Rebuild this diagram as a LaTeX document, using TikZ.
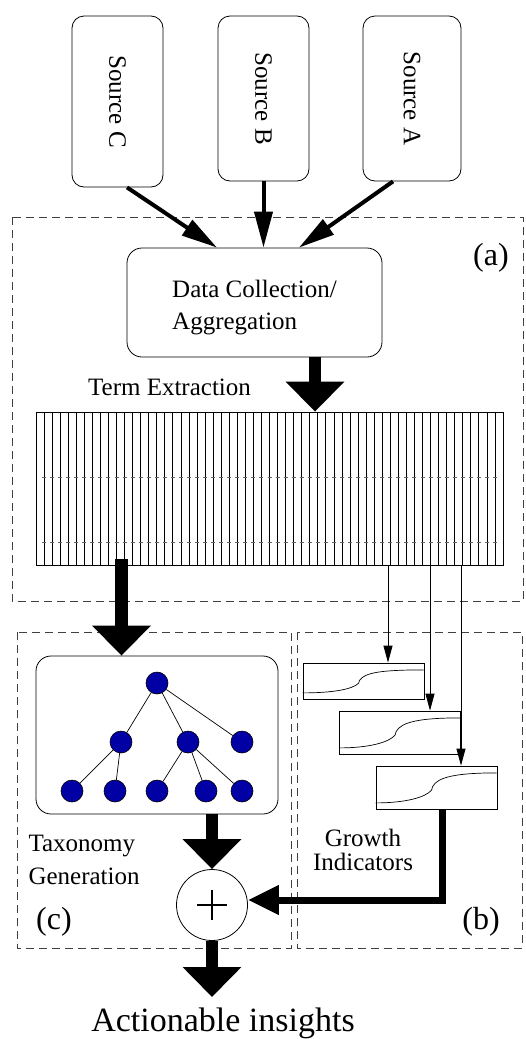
\documentclass[tikz,border=0pt]{standalone}
\usepackage{fontspec}
\setmainfont{Liberation Serif}
\usepackage{graphicx}
\usetikzlibrary{arrows.meta}
\definecolor{treeblue}{RGB}{0,0,165}
\tikzset{
	every node/.style={font=\fontsize{25}{32}\selectfont},
	roundbox/.style={draw, rounded corners=12pt, inner sep=0pt, line width=0.8pt},
	regionbox/.style={draw=black!75, dash pattern=on 8pt off 5pt, line width=0.8pt},
	lbl/.style={font=\fontsize{32}{38}\selectfont},
	leaf/.style={circle, draw, fill=treeblue, minimum size=22pt, inner sep=0pt, line width=0.6pt},
	treeedge/.style={line width=0.7pt},
	gbox/.style={draw, inner sep=0pt, minimum width=121pt, line width=0.8pt},
	curve/.style={line width=0.7pt},
	stripe/.style={line width=0.8pt},
	srcarrow/.style={line width=4pt, -{Triangle[length=36pt,width=18pt]}},
	blockarrow/.style={line width=12.5pt, -{Triangle[length=30pt,width=57pt]}},
	feedarrow/.style={line width=7pt, -{Triangle[length=31pt,width=28pt]}},
	thinarrow/.style={line width=0.8pt, -{Triangle[length=17pt,width=9pt]}}
}
\begin{document}
\begin{tikzpicture}[x=1pt,y=-1pt]
		\useasboundingbox (0,0) rectangle (525,1039);
		% dashed regions
		\draw[regionbox] (12,217) rectangle (523,601);
		\draw[regionbox] (17,632) rectangle (291,948);
		\draw[regionbox] (297,632) rectangle (522,948);
		\node[lbl] (laba) at (491,258) {(a)};
		\node[lbl] (labb) at (481,922) {(b)};
		\node[lbl] (labc) at (54,922) {(c)};
		% sources
		\node[roundbox, minimum width=91pt, minimum height=171pt] (srcC) at (117.5,101.5) {\rotatebox{-90}{Source C}};
		\node[roundbox, minimum width=91pt, minimum height=165pt] (srcB) at (263.5,98.5) {\rotatebox{-90}{Source B}};
		\node[roundbox, minimum width=98pt, minimum height=165pt] (srcA) at (412,98.5) {\rotatebox{-90}{Source A}};
		\node[roundbox, rounded corners=15pt, minimum width=255pt, minimum height=109pt] (dc) at (254.5,302.5) {};
		\node[align=left] (dctext) at (254.5,308) {Data Collection/\\Aggregation};
		\draw[srcarrow] ([xshift=9.5pt]srcC.south) -- ([xshift=-37.5pt]dc.north);
		\draw[srcarrow] (srcB.south) -- (srcB.south |- dc.north);
		\draw[srcarrow] ([xshift=-19pt]srcA.south) -- ([xshift=44.5pt]dc.north);
		% term bar
		\node[anchor=base] (termlbl) at (169.5,395) {Term Extraction};
		\node[draw, line width=0.8pt, minimum width=467pt, minimum height=153pt, inner sep=0pt] (terms) at (269.5,488.5) {};
		\foreach \i in {1,...,57} {
			\draw[stripe] (36+\i*8.052,412) -- (36+\i*8.052,565);
			\draw[stripe, black!60] (36+\i*8.052-2,477) -- (36+\i*8.052+2,477);
			\draw[stripe, black!60] (36+\i*8.052-2,542) -- (36+\i*8.052+2,542);
		}
		\coordinate (dcout) at ([xshift=60.5pt]dc.south);
		\draw[blockarrow] (dcout) -- (dcout |- terms.north);
		% taxonomy
		\node[roundbox, rounded corners=15pt, minimum width=242pt, minimum height=158pt] (taxbox) at (157,735) {};
		\node[leaf] (t0) at (157,683) {};
		\node[leaf] (t1) at (121,742) {};
		\node[leaf] (t2) at (188,742) {};
		\node[leaf] (t3) at (242,742) {};
		\node[leaf] (t4) at (72,791) {};
		\node[leaf] (t5) at (115,791) {};
		\node[leaf] (t6) at (157,791) {};
		\node[leaf] (t7) at (206,791) {};
		\node[leaf] (t8) at (242,791) {};
		\foreach \a/\b in {t0/t1, t0/t2, t0/t3, t1/t4, t1/t5, t2/t6, t2/t7, t2/t8}
			\draw[treeedge] (\a) -- (\b);
		\node[anchor=west, align=left, font=\fontsize{25}{33}\selectfont] (taxlbl) at (25,860) {Taxonomy\\Generation};
		\coordinate (taxin) at ([xshift=-35.5pt]taxbox.north);
		\coordinate (taxsrc) at ([yshift=6pt]terms.south);
		\draw[blockarrow] (taxsrc -| taxin) -- (taxin);
		% growth indicators
		\foreach \g/\cx/\cy/\h in {g1/363.5/681/36, g2/400/732.5/43, g3/436.5/787.5/43} {
			\node[gbox, minimum height=\h pt] (\g) at (\cx,\cy) {};
			\begin{scope}[shift={(\g.south west)}]
				\draw[curve] (0,-6.5) .. controls (30,-6.5) and (50,-0.28*\h) .. (56,-0.45*\h)
					-- (57,-0.53*\h) .. controls (62,-0.75*\h) and (80,-\h+6.5) .. (121,-\h+6.5);
			\end{scope}
		}
		\coordinate (in1) at ([xshift=24.5pt]g1.north);
		\coordinate (in2) at ([xshift=30pt]g2.north);
		\coordinate (in3) at ([xshift=24.5pt]g3.north);
		\draw[thinarrow] (terms.south -| in1) -- (in1);
		\draw[thinarrow] (terms.south -| in2) -- (in2);
		\draw[thinarrow] (terms.south -| in3) -- (in3);
		\node[align=center, font=\fontsize{25}{24}\selectfont] (growthlbl) at (363,850) {Growth\\Indicators};
		% combine
		\node[circle, draw, line width=0.8pt, minimum size=71pt, inner sep=0pt] (plus) at (212,905) {};
		\draw[line width=1.5pt] (plus.center) +(-15,0) -- +(15,0);
		\draw[line width=1.5pt] (plus.center) +(0,-15) -- +(0,15);
		\coordinate (taxout) at ([xshift=55pt]taxbox.south);
		\draw[blockarrow] (taxout) -- (taxout |- plus.north);
		\coordinate (gout) at ([xshift=5.5pt]g3.south);
		\coordinate (plusin) at ([yshift=5pt]plus.east);
		\draw[feedarrow] (gout) |- (plusin);
		\node[anchor=base, font=\fontsize{34}{40}\selectfont] (insights) at (223,1031) {Actionable insights};
		\coordinate (out) at (212,997);
		\draw[blockarrow] (plus.south) -- (out);
\end{tikzpicture}
\end{document}
